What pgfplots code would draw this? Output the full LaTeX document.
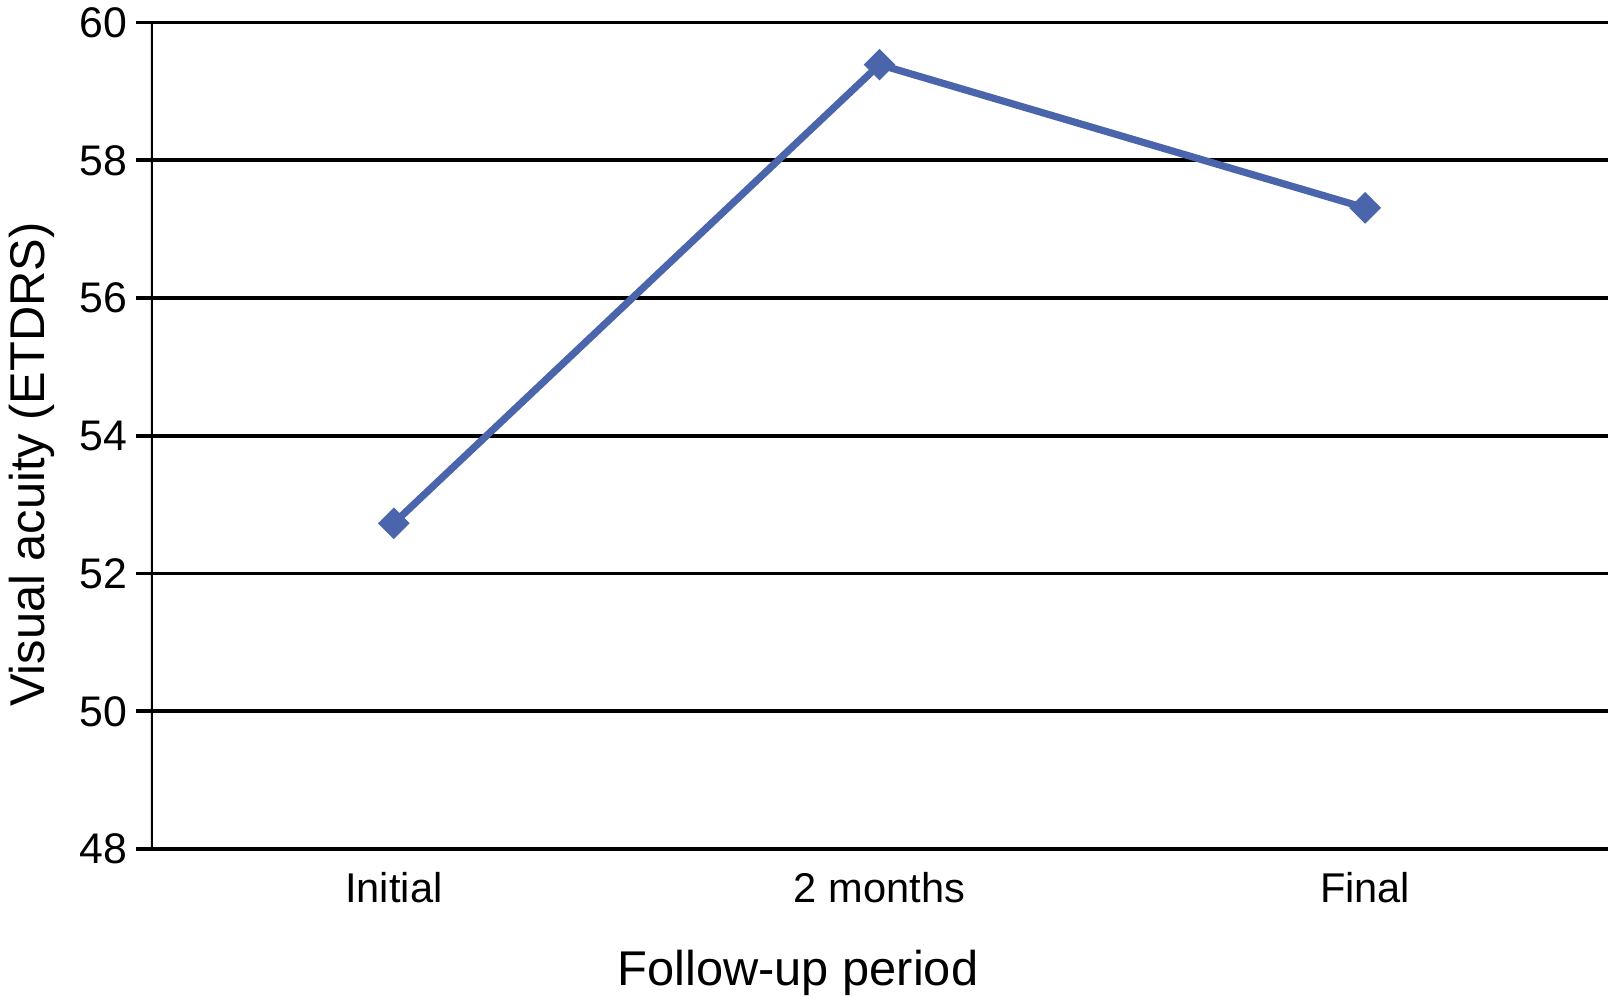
\documentclass[border=0pt]{standalone}
\usepackage{fontspec}
\setmainfont{Liberation Sans}
\usepackage{pgfplots}
\pgfplotsset{compat=1.18}
\definecolor{acuity}{HTML}{4A65AB}

\begin{document}
\begin{tikzpicture}
% page frame: 1608 x 997 px at 0.25pt per px, axis origin at (151,849) px
\useasboundingbox (-37.75pt,-37pt) rectangle (364.25pt,212.25pt);
\begin{axis}[
    at={(0,0)}, anchor=south west,
    scale only axis,
    width=364.25pt, height=206.6pt,
    xmin=-0.5, xmax=2.5,
    ymin=48, ymax=60,
    xtick={0,1,2},
    xticklabels={Initial, 2 months, Final},
    ytick={48,50,...,60},
    ymajorgrids=true,
    grid style={black, line width=0.95pt},
    axis line style={draw=none},
    xtick style={draw=none},
    ytick style={black, line width=0.95pt},
    ytick pos=left,
    tick align=outside,
    major tick length=3.75pt,
    /pgf/number format/assume math mode=true,
    tick label style={font=\fontsize{10.7}{12}\selectfont, black},
    yticklabel style={inner sep=0pt},
    xticklabel style={inner sep=0pt, font=\fontsize{10.4}{12}\selectfont},
    yticklabel shift=2pt,
    xticklabel shift=1.8pt,
]
\addplot[color=acuity, line width=1.8pt, mark=square*, mark size=2.7pt,
    mark options={rotate=45, fill=acuity, draw=acuity, line width=0.2pt}]
    coordinates { (0,52.73) (1,59.39) (2,57.31) };
\draw[black, line width=0.95pt] (rel axis cs:0,0) -- (rel axis cs:0,1);
\end{axis}
\node[rotate=90, anchor=base, inner sep=0pt, font=\fontsize{12.2}{15}\selectfont]
    at (-26.75pt,96.1pt) {Visual acuity (ETDRS)};
\node[anchor=base, inner sep=0pt, font=\fontsize{12.2}{15}\selectfont]
    at (161.75pt,-34.25pt) {Follow-up period};
\end{tikzpicture}
\end{document}
